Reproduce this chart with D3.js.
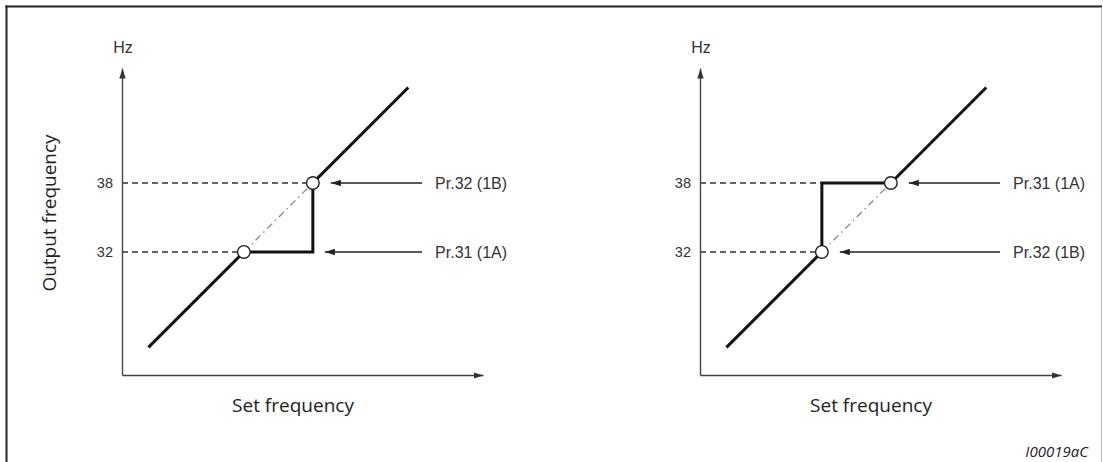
<!DOCTYPE html>
<html>
<head>
<meta charset="utf-8">
<script src="https://cdn.jsdelivr.net/npm/d3@7"></script>
<style>
  html, body { margin: 0; padding: 0; background: #fff; }
  svg { display: block; }
</style>
</head>
<body>
<svg id="chart" width="1103" height="462"></svg>
<script>
// ---------- data ----------
const hzTicks = [32, 38];
const yDomain = [21.3, 48];          // output frequency (Hz), schematic
const xDomain = [21.4, 52.8];        // set frequency (Hz), schematic

const leftPath  = [[23.7, 23.7], [32, 32], [38, 32], [38, 38], [46.3, 46.3]];
const rightPath = [[23.7, 23.7], [32, 32], [32, 38], [38, 38], [46.3, 46.3]];
const circlePts = [[32, 32], [38, 38]];
const diagGap   = [[32, 32], [38, 38]];

const leftGuides  = [[38, 38], [32, 32]];   // [level, x end]
const rightGuides = [[38, 32], [32, 32]];

const leftLabels  = ["Pr.32 (1B)", "Pr.31 (1A)"];
const leftLevels  = [38, 32];
const leftTargets = [38, 38];
const rightLabels  = ["Pr.31 (1A)", "Pr.32 (1B)"];
const rightLevels  = [38, 32];
const rightTargets = [38, 32];
const arrowStartHz = 47.5;

const yTitle = "Output frequency";
const xTitle = "Set frequency";
const unit = "Hz";
const figId = "I00019aC";

// ---------- drawing ----------
const svg = d3.select("#chart");
const defs = svg.append("defs");
function marker(id, len, half, color) {
  defs.append("marker").attr("id", id)
    .attr("markerUnits", "userSpaceOnUse")
    .attr("viewBox", `0 ${-half} ${len} ${2*half}`)
    .attr("refX", len).attr("refY", 0)
    .attr("markerWidth", len).attr("markerHeight", 2*half)
    .attr("orient", "auto")
    .append("path").attr("d", `M0,${-half}L${len},0L0,${half}Z`).attr("fill", color);
}
marker("axArrow", 10, 3.2, "#333");
marker("ptArrow", 10, 3.2, "#222");

// frame
svg.append("line").attr("x1", 6.5).attr("x2", 6.5).attr("y1", 5.5).attr("y2", 462)
  .attr("stroke", "#222").attr("stroke-width", 2);
svg.append("line").attr("x1", 5.5).attr("x2", 1102).attr("y1", 6.5).attr("y2", 6.5)
  .attr("stroke", "#222").attr("stroke-width", 2);
svg.append("line").attr("x1", 1101.5).attr("x2", 1101.5).attr("y1", 7).attr("y2", 462)
  .attr("stroke", "#bbb").attr("stroke-width", 1);

const y = d3.scaleLinear().domain(yDomain).range([375, 68]);

function panel(x0, pathData, guides, labels, levels, targets) {
  const x = d3.scaleLinear().domain(xDomain).range([x0, x0 + 361]);
  const g = svg.append("g");

  // guides (dashed)
  g.selectAll(".guide").data(guides).join("line")
    .attr("x1", x(xDomain[0])).attr("x2", d => x(d[1]))
    .attr("y1", d => y(d[0])).attr("y2", d => y(d[0]))
    .attr("stroke", "#333").attr("stroke-width", 1.4).attr("stroke-dasharray", "6,4");

  // diagonal dash-dot
  g.append("path").datum(diagGap)
    .attr("d", d3.line().x(d => x(d[0])).y(d => y(d[1])))
    .attr("fill", "none").attr("stroke", "#888").attr("stroke-width", 1.3)
    .attr("stroke-dasharray", "7,4,1.5,4");

  // axes
  const ay = g.append("g").attr("transform", `translate(${x(xDomain[0])},0)`)
    .call(d3.axisLeft(y).tickValues(hzTicks).tickSize(0).tickPadding(9));
  ay.select(".domain").attr("stroke", "#444").attr("stroke-width", 1.4).attr("marker-end", "url(#axArrow)");
  ay.selectAll("text").attr("font-family", "Liberation Sans, Arial, sans-serif")
    .attr("font-size", 14.5).attr("fill", "#333");

  const ax = g.append("g").attr("transform", `translate(0,${y(yDomain[0])})`)
    .call(d3.axisBottom(x).tickValues([]).tickSizeOuter(0));
  ax.select(".domain").attr("stroke", "#444").attr("stroke-width", 1.4).attr("marker-end", "url(#axArrow)");

  // main characteristic
  g.append("path").datum(pathData)
    .attr("d", d3.line().x(d => x(d[0])).y(d => y(d[1])))
    .attr("fill", "none").attr("stroke", "#111").attr("stroke-width", 3)
    .attr("stroke-linejoin", "miter").attr("stroke-linecap", "butt");

  // circles
  g.selectAll(".pt").data(circlePts).join("circle")
    .attr("cx", d => x(d[0])).attr("cy", d => y(d[1])).attr("r", 6.3)
    .attr("fill", "#fff").attr("stroke", "#222").attr("stroke-width", 1.4);

  // annotation arrows
  labels.forEach((lab, i) => {
    const tx = x(targets[i]);
    const gap = (targets[i] === levels[i] ? 18 : 12);
    g.append("line")
      .attr("x1", x(arrowStartHz)).attr("x2", tx + gap)
      .attr("y1", y(levels[i])).attr("y2", y(levels[i]))
      .attr("stroke", "#222").attr("stroke-width", 1.4).attr("marker-end", "url(#ptArrow)");
    g.append("text").text(lab)
      .attr("x", x(arrowStartHz) + 13).attr("y", y(levels[i]))
      .attr("dy", "0.36em")
      .attr("font-family", "Liberation Sans, Arial, sans-serif")
      .attr("font-size", 16).attr("fill", "#333");
  });

  // unit label
  g.append("text").text(unit)
    .attr("x", x(xDomain[0]) + 1).attr("y", 53)
    .attr("text-anchor", "middle")
    .attr("font-family", "Liberation Sans, Arial, sans-serif")
    .attr("font-size", 16).attr("fill", "#333");

  // x title
  g.append("text").text(xTitle)
    .attr("x", x0 + 171).attr("y", 412)
    .attr("text-anchor", "middle")
    .attr("font-family", "Open Sans, sans-serif")
    .attr("font-size", 19).attr("fill", "#222");
}

panel(122, leftPath, leftGuides, leftLabels, leftLevels, leftTargets);
panel(700, rightPath, rightGuides, rightLabels, rightLevels, rightTargets);

// y title
svg.append("text").text(yTitle)
  .attr("transform", "translate(56,213) rotate(-90)")
  .attr("text-anchor", "middle")
  .attr("font-family", "Open Sans, sans-serif")
  .attr("font-size", 19).attr("fill", "#222");

// figure id
svg.append("text").text(figId)
  .attr("x", 1088).attr("y", 457)
  .attr("text-anchor", "end")
  .attr("font-family", "Open Sans, sans-serif")
  .attr("font-style", "italic")
  .attr("font-size", 15).attr("fill", "#222");
</script>
</body>
</html>
